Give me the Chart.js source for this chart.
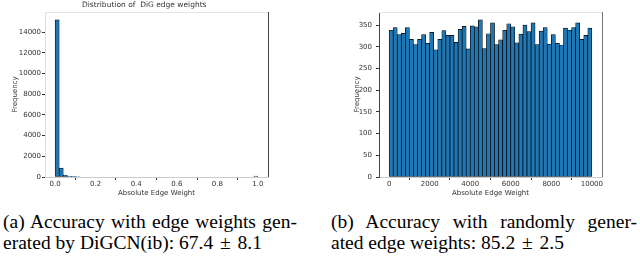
<!DOCTYPE html>
<html>
<head>
<meta charset="utf-8">
<script src="https://cdn.jsdelivr.net/npm/chart.js@4"></script>
<style>
    body { margin: 0; background: #fff; width: 640px; height: 260px; position: relative; overflow: hidden; }
    .box { position: absolute; top: 0; width: 320px; height: 200px; }
    .plotTitle { position: absolute; top: 0; font: 7.5px "DejaVu Sans"; color: #333; white-space: nowrap; }
    .cap { position: absolute; font: 19.5px "Liberation Serif"; line-height: 21px; color: #000; }
    .cap .l1 { text-align: justify; text-align-last: justify; white-space: nowrap; }
    .cap .m { word-spacing: 2px; }
</style>
</head>
<body>
<div class="box" style="left:0"><canvas id="weightsChart" width="320" height="200"></canvas></div>
<div class="box" style="left:320px"><canvas id="randomChart" width="320" height="200"></canvas></div>
<div class="plotTitle" style="left:82px">Distribution of&nbsp; DiG edge weights</div>

<div class="cap" style="left:3px; top:211px; width:294px">
    <div class="l1">(a) Accuracy with edge weights gen-</div>
    <div>erated by DiGCN(ib): <span class="m">67.4 ± 8.1</span></div>
</div>
<div class="cap" style="left:331px; top:211px; width:306px">
    <div class="l1">(b) Accuracy with randomly gener-</div>
    <div>ated edge weights: <span class="m">85.2 ± 2.5</span></div>
</div>

<script>
// Histogram (a): DiGCN(ib) edge weights, 50 bins over [0, 1]
const weightBinStart = 0;
const weightBinWidth = 0.02;
const weightCounts = [
    15200, 860, 190, 70, 60, 45, 0, 0, 0, 0,
    0, 0, 0, 0, 0, 0, 0, 0, 0, 0,
    0, 0, 0, 0, 0, 0, 0, 0, 0, 0,
    0, 0, 0, 0, 0, 0, 0, 0, 0, 0,
    0, 0, 0, 0, 0, 0, 0, 0, 0, 90
];
const weightXTicks = [0, 0.2, 0.4, 0.6, 0.8, 1.0];
const weightYTicks = [0, 2000, 4000, 6000, 8000, 10000, 12000, 14000];

// Histogram (b): random edge weights, 50 bins over [0, 10000]
const randomBinStart = 0;
const randomBinWidth = 200;
const randomCounts = [
    338, 344, 328, 331, 344, 317, 305, 317, 328, 308,
    333, 293, 317, 337, 326, 326, 310, 340, 347, 295,
    348, 346, 362, 296, 330, 355, 305, 316, 338, 353,
    346, 309, 329, 350, 335, 355, 305, 336, 344, 306,
    328, 308, 304, 343, 338, 344, 355, 317, 326, 343
];
const randomXTicks = [0, 2000, 4000, 6000, 8000, 10000];
const randomYTicks = [0, 50, 100, 150, 200, 250, 300, 350];

const barBlue = '#1f77b4';
const tickColor = '#333';

function toPoints(counts, start, width) {
    return counts.map((c, i) => ({ x: start + (i + 0.5) * width, y: c }));
}

// draws the top/right spines that Chart.js has no axis for
function framePlugin(topColor, rightColor) {
    return {
        id: 'frame',
        afterDraw(chart) {
            const a = chart.chartArea;
            const ctx = chart.ctx;
            ctx.save();
            ctx.lineWidth = 1;
            ctx.strokeStyle = topColor;
            ctx.beginPath();
            ctx.moveTo(a.left, a.top + 0.5);
            ctx.lineTo(a.right, a.top + 0.5);
            ctx.stroke();
            ctx.strokeStyle = rightColor;
            ctx.beginPath();
            ctx.moveTo(a.right + 0.5, a.top);
            ctx.lineTo(a.right + 0.5, a.bottom);
            ctx.stroke();
            ctx.restore();
        }
    };
}

function makeHistogram(id, cfg) {
    const font = { family: 'DejaVu Sans', size: 7 };
    return new Chart(document.getElementById(id), {
        type: 'bar',
        data: {
            datasets: [{
                data: toPoints(cfg.counts, cfg.start, cfg.width),
                backgroundColor: barBlue,
                borderColor: '#000',
                borderWidth: 0.7,
                borderSkipped: false,
                barPercentage: 1,
                categoryPercentage: 1
            }]
        },
        options: {
            responsive: false,
            animation: false,
            events: [],
            layout: { padding: { left: 0, right: cfg.padRight, top: 12, bottom: 0 } },
            plugins: { legend: { display: false }, tooltip: { enabled: false }, title: { display: false } },
            scales: {
                x: {
                    type: 'linear',
                    offset: false,
                    min: cfg.xMin,
                    max: cfg.xMax,
                    afterBuildTicks: s => { s.ticks = cfg.xTicks.map(v => ({ value: v })); },
                    afterFit: s => { s.height = 23; },
                    ticks: {
                        color: tickColor, font, padding: 0, maxRotation: 0, autoSkip: false,
                        callback: cfg.xFormat
                    },
                    grid: { drawOnChartArea: false, drawTicks: true, tickLength: 3, color: tickColor },
                    border: { color: cfg.bottomSpine },
                    title: { display: true, text: 'Absolute Edge Weight', color: tickColor, font, padding: { top: 0, bottom: 3 } }
                },
                y: {
                    min: 0,
                    max: cfg.yMax,
                    afterBuildTicks: s => { s.ticks = cfg.yTicks.map(v => ({ value: v })); },
                    afterFit: s => { s.width = cfg.yWidth; },
                    ticks: { color: tickColor, font, padding: cfg.yTickPad, autoSkip: false, callback: v => String(v) },
                    grid: { drawOnChartArea: false, drawTicks: true, tickLength: 3, color: tickColor },
                    border: { color: cfg.leftSpine },
                    title: { display: true, text: 'Frequency', color: tickColor, font, padding: { top: cfg.yTitlePad, bottom: 0 } }
                }
            }
        },
        plugins: [framePlugin(cfg.topSpine, cfg.rightSpine)]
    });
}

makeHistogram('weightsChart', {
    counts: weightCounts, start: weightBinStart, width: weightBinWidth,
    xMin: -0.05, xMax: 1.05, yMax: 15960,
    xTicks: weightXTicks, yTicks: weightYTicks,
    xFormat: v => v.toFixed(1),
    padRight: 52, yWidth: 45, yTickPad: 1, yTitlePad: 11,
    leftSpine: '#ddd', bottomSpine: '#ccc', topSpine: '#e6e6e6', rightSpine: '#444'
});

makeHistogram('randomChart', {
    counts: randomCounts, start: randomBinStart, width: randomBinWidth,
    xMin: -500, xMax: 10500, yMax: 380,
    xTicks: randomXTicks, yTicks: randomYTicks,
    xFormat: v => String(v),
    padRight: 38, yWidth: 59, yTickPad: 4, yTitlePad: 33,
    leftSpine: '#444', bottomSpine: '#ccc', topSpine: '#e6e6e6', rightSpine: '#777'
});
</script>
</body>
</html>
